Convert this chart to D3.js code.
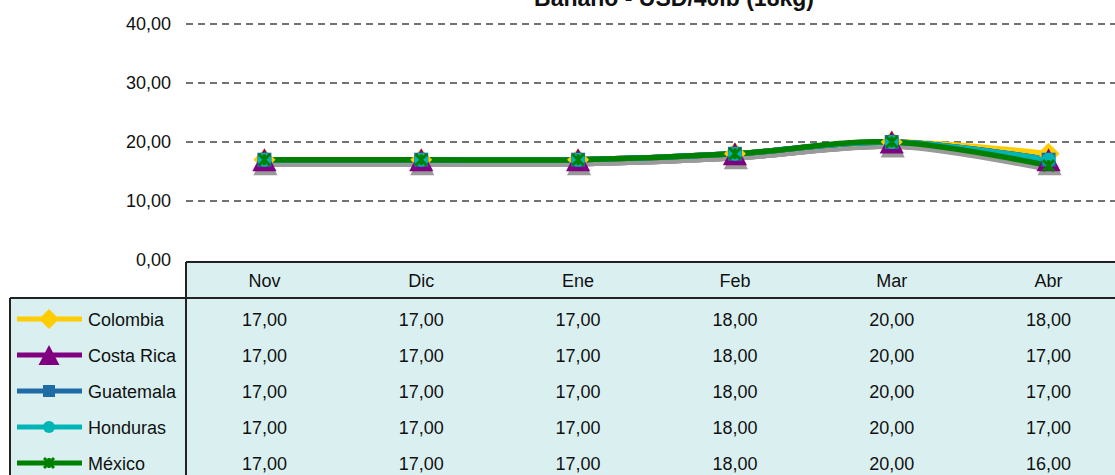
<!DOCTYPE html>
<html lang="es">
<head>
<meta charset="UTF-8">
<title>Banano - USD/40lb (18kg)</title>
<script src="https://d3js.org/d3.v7.min.js"></script>
<style>
  body, html { margin: 0; padding: 0; overflow: hidden; background: #fff; }
  svg { display: block; font-family: "Liberation Sans", Arial, sans-serif; }
</style>
</head>
<body>
<script>
// data
const months = ["Nov", "Dic", "Ene", "Feb", "Mar", "Abr"];
const countries = ["Colombia", "Costa Rica", "Guatemala", "Honduras", "México"];
const colombia  = [17, 17, 17, 18, 20, 18];
const costaRica = [17, 17, 17, 18, 20, 17];
const guatemala = [17, 17, 17, 18, 20, 17];
const honduras  = [17, 17, 17, 18, 20, 17];
const mexico    = [17, 17, 17, 18, 20, 16];
const yTicks = [0, 10, 20, 30, 40];

const seriesValues = [colombia, costaRica, guatemala, honduras, mexico];
const colors = ["#FFCC00", "#800080", "#1F6BA5", "#00B5B5", "#008000"];
const symbols = ["diamond", "triangle", "square", "circle", "cross"];

const width = 1115, height = 475;
const fmt = v => d3.format(".2f")(v).replace(".", ",");

const svg = d3.select("body").append("svg")
  .attr("width", width)
  .attr("height", height);

// scales
const x = d3.scaleBand().domain(months).range([186, 1127]);
const y = d3.scaleLinear().domain([0, 40]).range([260, 24]);
const cx = m => x(m) + x.bandwidth() / 2;

// title (cut by the top edge in the original)
svg.append("text")
  .attr("x", 674).attr("y", 6)
  .attr("text-anchor", "middle")
  .attr("font-size", 23).attr("font-weight", "bold")
  .attr("fill", "#111")
  .text("Banano - USD/40lb (18kg)");

// gridlines
svg.append("g").selectAll("line")
  .data(yTicks.filter(d => d > 0))
  .join("line")
  .attr("x1", 186).attr("x2", width)
  .attr("y1", d => y(d)).attr("y2", d => y(d))
  .attr("stroke", "#444").attr("stroke-width", 1.3)
  .attr("stroke-dasharray", "7,5");

// y axis labels
svg.append("g").selectAll("text")
  .data(yTicks)
  .join("text")
  .attr("x", 171)
  .attr("y", d => y(d) + 6)
  .attr("text-anchor", "end")
  .attr("font-size", 18).attr("fill", "#111")
  .text(fmt);

// table background and borders
const headTop = 262, headBottom = 298, rowH = 36;
svg.append("rect")
  .attr("x", 186).attr("y", headTop)
  .attr("width", width - 186).attr("height", height - headTop)
  .attr("fill", "#DAF0F0");
svg.append("rect")
  .attr("x", 10).attr("y", headBottom)
  .attr("width", 176).attr("height", height - headBottom)
  .attr("fill", "#DAF0F0");

const borders = [
  [186, headTop, width, headTop],
  [186, headTop, 186, height],
  [10, headBottom, width, headBottom],
  [10, headBottom, 10, height]
];
svg.append("g").selectAll("line")
  .data(borders)
  .join("line")
  .attr("x1", d => d[0]).attr("y1", d => d[1])
  .attr("x2", d => d[2]).attr("y2", d => d[3])
  .attr("stroke", "#222").attr("stroke-width", 2);

// month header
svg.append("g").selectAll("text")
  .data(months)
  .join("text")
  .attr("x", cx)
  .attr("y", 287)
  .attr("text-anchor", "middle")
  .attr("font-size", 18).attr("fill", "#111")
  .text(d => d);

// symbol helper
function symbolPath(kind, s) {
  if (kind === "diamond") return `M0,${-s}L${s},0L0,${s}L${-s},0Z`;
  if (kind === "triangle") return `M0,${-s}L${s * 1.05},${s}L${-s * 1.05},${s}Z`;
  if (kind === "square") return `M${-s},${-s}H${s}V${s}H${-s}Z`;
  if (kind === "circle") return d3.symbol(d3.symbolCircle, Math.PI * s * s)();
  return `M${-s},${-s}L${s},${s}M${s},${-s}L${-s},${s}M0,${-s}V${s}`;
}
const symbolSize = [11, 11.5, 7, 7, 5.5];
const legendSize = [10, 10, 6, 6, 5];

function drawMarker(g, i, px, py, shadow, sizes) {
  const kind = symbols[i];
  const p = g.append("path")
    .attr("d", symbolPath(kind, (sizes || symbolSize)[i]))
    .attr("transform", `translate(${px},${py})`);
  if (kind === "cross") {
    p.attr("fill", "none")
      .attr("stroke", shadow ? "#999" : colors[i]).attr("stroke-width", 3);
  } else {
    p.attr("fill", shadow ? "#999" : colors[i]);
  }
}

const line = d3.line()
  .x((d, j) => cx(months[j]))
  .y(d => y(d))
  .curve(d3.curveCatmullRom.alpha(0.5));

// shadows
const shadow = svg.append("g").attr("transform", "translate(1,4)");
seriesValues.forEach((vals, i) => {
  shadow.append("path")
    .attr("d", line(vals))
    .attr("fill", "none")
    .attr("stroke", "#9a9a9a").attr("stroke-width", 5.5);
});
seriesValues.forEach((vals, i) => {
  if (symbols[i] !== "triangle") return;
  vals.forEach((v, j) => drawMarker(shadow, i, cx(months[j]), y(v), true));
});

// lines
const lines = svg.append("g");
seriesValues.forEach((vals, i) => {
  lines.append("path")
    .attr("d", line(vals))
    .attr("fill", "none")
    .attr("stroke", colors[i]).attr("stroke-width", 5.5)
    .attr("stroke-linejoin", "round");
});

// markers
const markers = svg.append("g");
seriesValues.forEach((vals, i) => {
  vals.forEach((v, j) => drawMarker(markers, i, cx(months[j]), y(v), false));
});

// table rows with legend keys
countries.forEach((name, i) => {
  const rowY = headBottom + rowH * i;
  const midY = rowY + 22;
  const key = svg.append("g");
  key.append("line")
    .attr("x1", 17).attr("x2", 82)
    .attr("y1", midY - 1).attr("y2", midY - 1)
    .attr("stroke", colors[i]).attr("stroke-width", 5);
  drawMarker(key, i, 49, midY - 1, false, legendSize);
  svg.append("text")
    .attr("x", 88).attr("y", midY + 6)
    .attr("font-size", 18).attr("fill", "#111")
    .text(name);
  svg.append("g").selectAll("text")
    .data(seriesValues[i])
    .join("text")
    .attr("x", (d, j) => cx(months[j]))
    .attr("y", midY + 6)
    .attr("text-anchor", "middle")
    .attr("font-size", 18).attr("fill", "#111")
    .text(fmt);
});
</script>
</body>
</html>
